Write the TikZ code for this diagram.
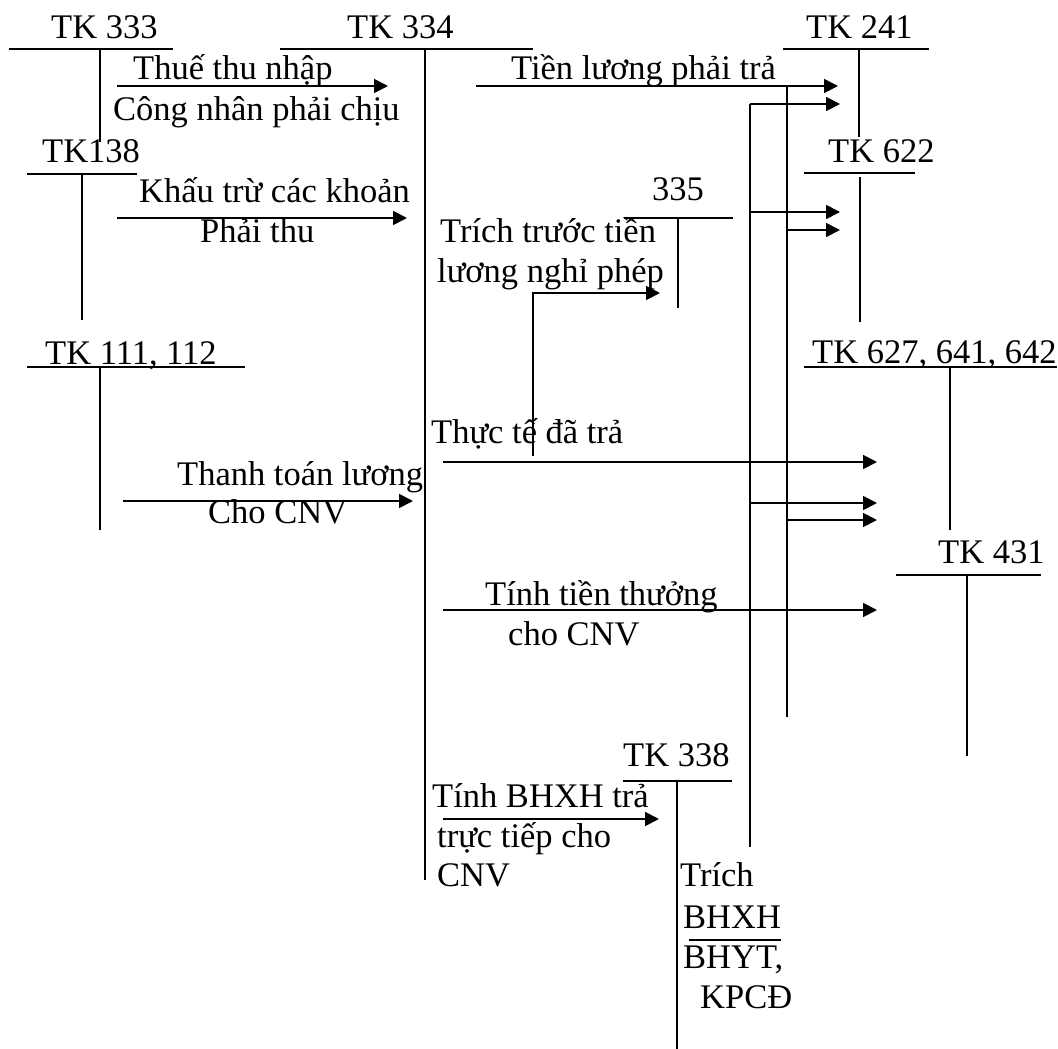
\documentclass[tikz,border=0pt]{standalone}
\usepackage{fontspec}
\setmainfont{Liberation Serif}
\usetikzlibrary{arrows.meta}
\begin{document}
\begin{tikzpicture}[x=1pt,y=-1pt,
  tline/.style={line width=1.8pt},
  arr/.style={line width=1.8pt,-{Triangle[length=14pt,width=14pt]}},
  lbl/.style={anchor=base west,inner sep=0pt,font=\fontsize{34.5}{40}\selectfont}]
\useasboundingbox[fill=white] (0,0) rectangle (1058,1049);

% ---- T-account lines
\draw[tline] (9,49) -- (173,49);   \draw[tline] (100,49) -- (100,142);   % TK 333
\draw[tline] (280,49) -- (533,49); \draw[tline] (425,49) -- (425,880);   % TK 334
\draw[tline] (783,49) -- (929,49); \draw[tline] (859,49) -- (859,137);   % TK 241
\draw[tline] (27,174) -- (137,174); \draw[tline] (82,174) -- (82,320);   % TK 138
\draw[tline] (804,173) -- (915,173); \draw[tline] (860,177) -- (860,322); % TK 622
\draw[tline] (624,218) -- (733,218); \draw[tline] (678,218) -- (678,308); % 335
\draw[tline] (27,367) -- (245,367); \draw[tline] (100,367) -- (100,530); % TK 111,112
\draw[tline] (804,367) -- (1057,367); \draw[tline] (950,367) -- (950,530); % TK 627
\draw[tline] (896,575) -- (1041,575); \draw[tline] (967,575) -- (967,756); % TK 431
\draw[tline] (623,781) -- (732,781); \draw[tline] (677,781) -- (677,1049); % TK 338

% ---- distribution verticals
\coordinate (A1) at (750,104); \coordinate (A2) at (750,847);
\coordinate (B1) at (787,86);  \coordinate (B2) at (787,717);
\draw[tline] (A1) -- (A2);
\draw[tline] (B1) -- (B2);

% ---- arrows
\draw[arr] (117,86) -- (388,86);
\draw[arr] (117,218) -- (407,218);
\draw[arr] (123,501) -- (413,501);
\draw[arr] (476,86) -- (838,86);
\draw[arr] (A1) -- (840,104);
\draw[arr] (750,212) -- (840,212);
\draw[arr] (787,230) -- (840,230);
\draw[arr] (533,456) -- (533,293) -- (660,293);
\draw[arr] (443,462) -- (877,462);
\draw[arr] (750,503) -- (877,503);
\draw[arr] (787,520) -- (877,520);
\draw[arr] (443,610) -- (877,610);
\draw[arr] (443,819) -- (659,819);

% ---- labels
\node[lbl] (l333) at (51,39) {TK 333};
\node[lbl] (l334) at (347,39) {TK 334};
\node[lbl] (l241) at (806,39) {TK 241};
\node[lbl] (t1) at (133,80) {Thuế thu nhập};
\node[lbl] (t2) at (511,80) {Tiền lương phải trả};
\node[lbl] (t3) at (113,120) {Công nhân phải chịu};
\node[lbl] (l138) at (42,162) {TK138};
\node[lbl] (l622) at (828,162) {TK 622};
\node[lbl] (l335) at (652,200) {335};
\node[lbl] (t4) at (139,202) {Khấu trừ các khoản};
\node[lbl] (t5) at (200,242) {Phải thu};
\node[lbl] (t6) at (440,242) {Trích trước tiền};
\node[lbl] (t7) at (437,282) {lương nghỉ phép};
\node[lbl] (l111) at (45,364) {TK 111, 112};
\node[lbl] (l627) at (812,363) {TK 627, 641, 642};
\node[lbl] (t8) at (431,443) {Thực tế đã trả};
\node[lbl] (t9) at (177,485) {Thanh toán lương};
\node[lbl] (t10) at (208,523) {Cho CNV};
\node[lbl] (l431) at (938,563) {TK 431};
\node[lbl] (t11) at (485,605) {Tính tiền thưởng};
\node[lbl] (t12) at (508,645) {cho CNV};
\node[lbl] (l338) at (623,766) {TK 338};
\node[lbl] (t13) at (432,807) {Tính BHXH trả};
\node[lbl] (t14) at (437,847) {trực tiếp cho};
\node[lbl] (t15) at (437,886) {CNV};
\node[lbl] (t16) at (680,886) {Trích};
\node[lbl] (t17) at (683,928) {BHXH};
\node[lbl] (t18) at (683,968) {BHYT,};
\node[lbl] (t19) at (700,1008) {KPCĐ};
\draw[line width=1.2pt] (689,940) -- (781,940);
\end{tikzpicture}
\end{document}
